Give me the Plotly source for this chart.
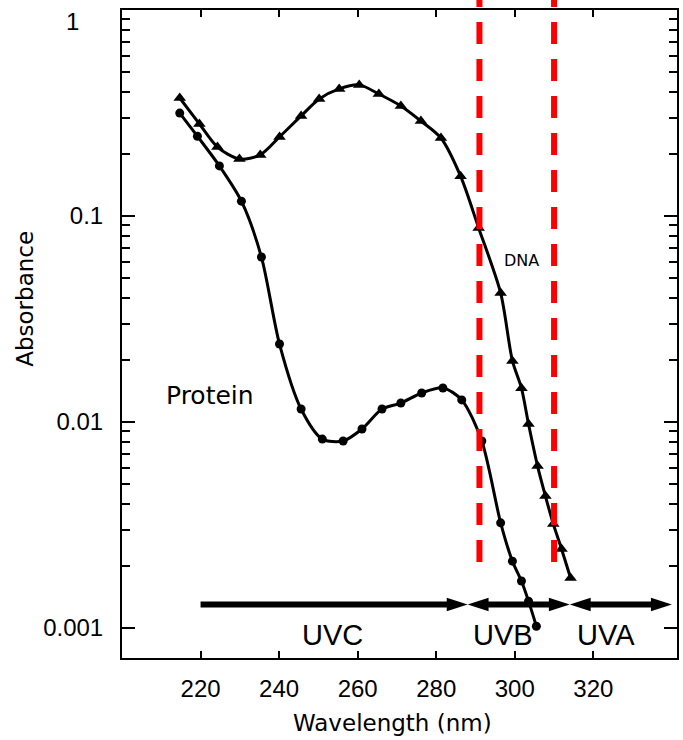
import math
import plotly.graph_objects as go

# ---- data ----
dna_wl = [214.7, 219.7, 224.3, 229.9, 235.2, 240.1, 245.6, 250.2, 255.3, 260.4,
          265.4, 271.0, 276.1, 281.2, 286.2, 290.8, 296.4, 299.4, 301.7, 303.5,
          305.8, 307.8, 309.8, 311.9, 314.2]
dna_abs = [0.374, 0.280, 0.216, 0.189, 0.198, 0.242, 0.306, 0.370, 0.414, 0.433,
           0.391, 0.342, 0.289, 0.239, 0.156, 0.0875, 0.0423, 0.0198, 0.0146, 0.00977,
           0.00611, 0.00437, 0.00320, 0.00242, 0.00175]

prot_wl = [214.7, 219.2, 224.8, 230.4, 235.5, 240.1, 245.6, 251.0, 256.3, 261.1,
           266.2, 271.0, 276.3, 281.7, 286.5, 291.6, 296.4, 299.4, 301.7, 303.5, 305.5]
prot_abs = [0.316, 0.244, 0.175, 0.118, 0.0632, 0.0239, 0.01156, 0.00826, 0.00809, 0.00925,
            0.01156, 0.01236, 0.01383, 0.01463, 0.0128, 0.00809, 0.00324, 0.00211, 0.00169,
            0.00135, 0.00102]

band_names = ["UVC", "UVB", "UVA"]
band_edges = [220, 288, 314, 340]
band_level = 0.0013
band_label_x = [253.5, 296.9, 323.2]
band_label_y = 0.000925

red_lines = [291, 310]

x_ticks = [220, 240, 260, 280, 300, 320]
y_ticks = [0.001, 0.01, 0.1, 1]
y_ticktext = ["0.001", "0.01", "0.1", ""]
y_minor = [k * 10.0 ** e for e in (-3, -2, -1) for k in range(2, 10)]

fig = go.Figure()

# curves
fig.add_trace(go.Scatter(
    x=dna_wl, y=dna_abs, mode="lines+markers",
    line=dict(color="black", width=3, shape="spline", smoothing=0.8),
    marker=dict(symbol="triangle-up", size=11, color="black"),
    showlegend=False, hoverinfo="skip"))
fig.add_trace(go.Scatter(
    x=prot_wl, y=prot_abs, mode="lines+markers",
    line=dict(color="black", width=3, shape="spline", smoothing=0.8),
    marker=dict(symbol="circle", size=9, color="black"),
    showlegend=False, hoverinfo="skip"))

# UV band bars with arrow heads
trim = 3.0
for i in range(3):
    a, b = band_edges[i], band_edges[i + 1]
    x0 = a if i == 0 else a + trim
    fig.add_trace(go.Scatter(
        x=[x0, b - trim], y=[band_level, band_level], mode="lines",
        line=dict(color="black", width=6), showlegend=False, hoverinfo="skip"))
    xs = [b]
    angs = [90]
    if i > 0:
        xs.append(a)
        angs.append(-90)
    fig.add_trace(go.Scatter(
        x=xs, y=[band_level] * len(xs), mode="markers",
        marker=dict(symbol="arrow", size=22, color="black", angle=angs,
                    line=dict(width=0)),
        showlegend=False, hoverinfo="skip", cliponaxis=False))

# red dashed lines
for xv in red_lines:
    fig.add_shape(type="line", xref="x", yref="paper", x0=xv, x1=xv,
                  y0=0.148, y1=1.0154,
                  line=dict(color="#ff0000", width=6, dash="22px,15px"))

# text annotations
for name, lx in zip(band_names, band_label_x):
    fig.add_annotation(x=lx, y=math.log10(band_label_y), xref="x", yref="y",
                       text=name, showarrow=False,
                       font=dict(family="Liberation Sans, Arial, sans-serif", size=29, color="black"))

fig.add_annotation(x=222.5, y=math.log10(0.0135), xref="x", yref="y", text="Protein",
                   showarrow=False,
                   font=dict(family="DejaVu Sans, sans-serif", size=25, color="black"))
fig.add_annotation(x=301.7, y=math.log10(0.0605), xref="x", yref="y", text="DNA",
                   showarrow=False,
                   font=dict(family="DejaVu Sans, sans-serif", size=16, color="black"))

# axis titles and the "1" label
fig.add_annotation(x=0.4865, y=-0.1003, xref="paper", yref="paper",
                   text="Wavelength (nm)", showarrow=False, xanchor="center", yanchor="middle",
                   font=dict(family="DejaVu Sans, sans-serif", size=23, color="black"))
fig.add_annotation(x=-0.174, y=0.555, xref="paper", yref="paper",
                   text="Absorbance", showarrow=False, textangle=-90,
                   xanchor="center", yanchor="middle",
                   font=dict(family="DejaVu Sans, sans-serif", size=23, color="black"))
fig.add_annotation(x=-0.0736, y=0.9815, xref="paper", yref="paper",
                   text="1", showarrow=False, xanchor="right", yanchor="middle",
                   font=dict(family="Liberation Sans, Arial, sans-serif",
                             size=24, color="black"))

tick_font = dict(family="Liberation Sans, Arial, sans-serif", size=24, color="black")

fig.update_xaxes(
    range=[200, 341.3], tickmode="array", tickvals=x_ticks,
    ticks="inside", ticklen=7, tickwidth=1.5, tickcolor="black",
    showline=True, linecolor="black", linewidth=2, mirror="ticks",
    showgrid=False, zeroline=False, tickfont=tick_font, ticklabelstandoff=8)
fig.update_yaxes(
    type="log", range=[0, math.log10(0.000715)][::-1],
    tickmode="array", tickvals=y_ticks, ticktext=y_ticktext,
    ticks="inside", ticklen=13, tickwidth=2, tickcolor="black",
    minor=dict(tickmode="array", tickvals=y_minor, ticks="inside", ticklen=8,
               tickwidth=2, tickcolor="black", showgrid=False),
    showline=True, linecolor="black", linewidth=2, mirror="ticks",
    showgrid=False, zeroline=False, tickfont=tick_font, ticklabelstandoff=12)

fig.update_layout(
    width=683, height=740,
    margin=dict(l=122, r=4, t=10, b=82),
    paper_bgcolor="white", plot_bgcolor="white",
    showlegend=False)

fig.write_html(
    "out.html",
    config={"displayModeBar": False},
    post_script="document.body.style.margin='0';document.body.style.overflow='hidden';"
                "document.documentElement.style.overflow='hidden';")
